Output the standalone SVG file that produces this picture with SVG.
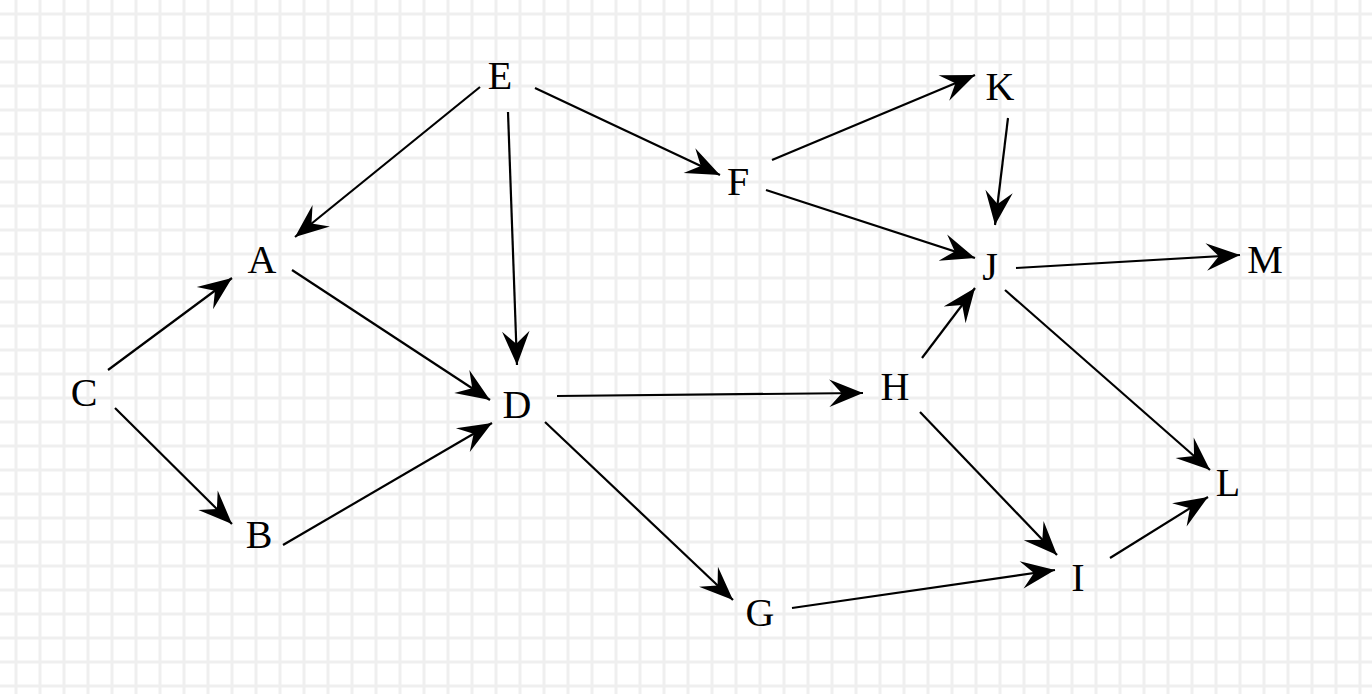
<svg xmlns="http://www.w3.org/2000/svg" width="1372" height="694" viewBox="0 0 1372 694">
<defs>
<pattern id="grid" width="24" height="24" patternUnits="userSpaceOnUse" x="4" y="2">
<path d="M12,0 V24 M0,12 H24" stroke="#efefef" stroke-width="3" fill="none"/>
</pattern>
<marker id="arr" markerUnits="userSpaceOnUse" markerWidth="40" markerHeight="40" viewBox="-30 -15 32 30" refX="0" refY="0" orient="auto">
<path d="M0,0 L-27,-11 L-17,0 L-27,11 Z" fill="#000"/>
</marker>
<style>
.e{stroke:#000;stroke-width:2.2;fill:none;marker-end:url(#arr)}
text{font-family:"Liberation Serif","Times New Roman",serif;font-size:40px;fill:#000;text-anchor:middle;dominant-baseline:central}
</style>
</defs>
<rect width="1372" height="694" fill="#fff"/>
<rect width="1372" height="694" fill="url(#grid)"/>
<g id="connectors">
<line class="e" x1="480" y1="87" x2="295" y2="237"/>
<line class="e" x1="508" y1="112" x2="517" y2="365"/>
<line class="e" x1="535" y1="88" x2="720" y2="175"/>
<line class="e" x1="772" y1="160" x2="975" y2="75"/>
<line class="e" x1="766" y1="190" x2="975" y2="258"/>
<line class="e" x1="1008" y1="118" x2="995" y2="225"/>
<line class="e" x1="1016" y1="268" x2="1240" y2="255"/>
<line class="e" x1="1005" y1="290" x2="1210" y2="470"/>
<line class="e" x1="922" y1="358" x2="975" y2="288"/>
<line class="e" x1="920" y1="412" x2="1057" y2="555"/>
<line class="e" x1="1110" y1="558" x2="1208" y2="497"/>
<line class="e" x1="792" y1="608" x2="1055" y2="570"/>
<line class="e" x1="545" y1="422" x2="733" y2="600"/>
<line class="e" x1="557" y1="396" x2="863" y2="393"/>
<line class="e" x1="292" y1="270" x2="490" y2="400"/>
<line class="e" x1="283" y1="545" x2="492" y2="423"/>
<line class="e" x1="108" y1="370" x2="232" y2="278"/>
<line class="e" x1="115" y1="408" x2="232" y2="524"/>
</g>
<g id="E"><text x="500" y="75">E</text></g>
<g id="A"><text x="262" y="259">A</text></g>
<g id="C"><text x="84" y="392">C</text></g>
<g id="B"><text x="259" y="534">B</text></g>
<g id="D"><text x="517" y="404">D</text></g>
<g id="F"><text x="738" y="181">F</text></g>
<g id="K"><text x="1000" y="86">K</text></g>
<g id="J"><text x="990" y="266">J</text></g>
<g id="M"><text x="1265" y="259">M</text></g>
<g id="H"><text x="895" y="386">H</text></g>
<g id="L"><text x="1228" y="482">L</text></g>
<g id="I"><text x="1078" y="577">I</text></g>
<g id="G"><text x="760" y="612">G</text></g>
</svg>
